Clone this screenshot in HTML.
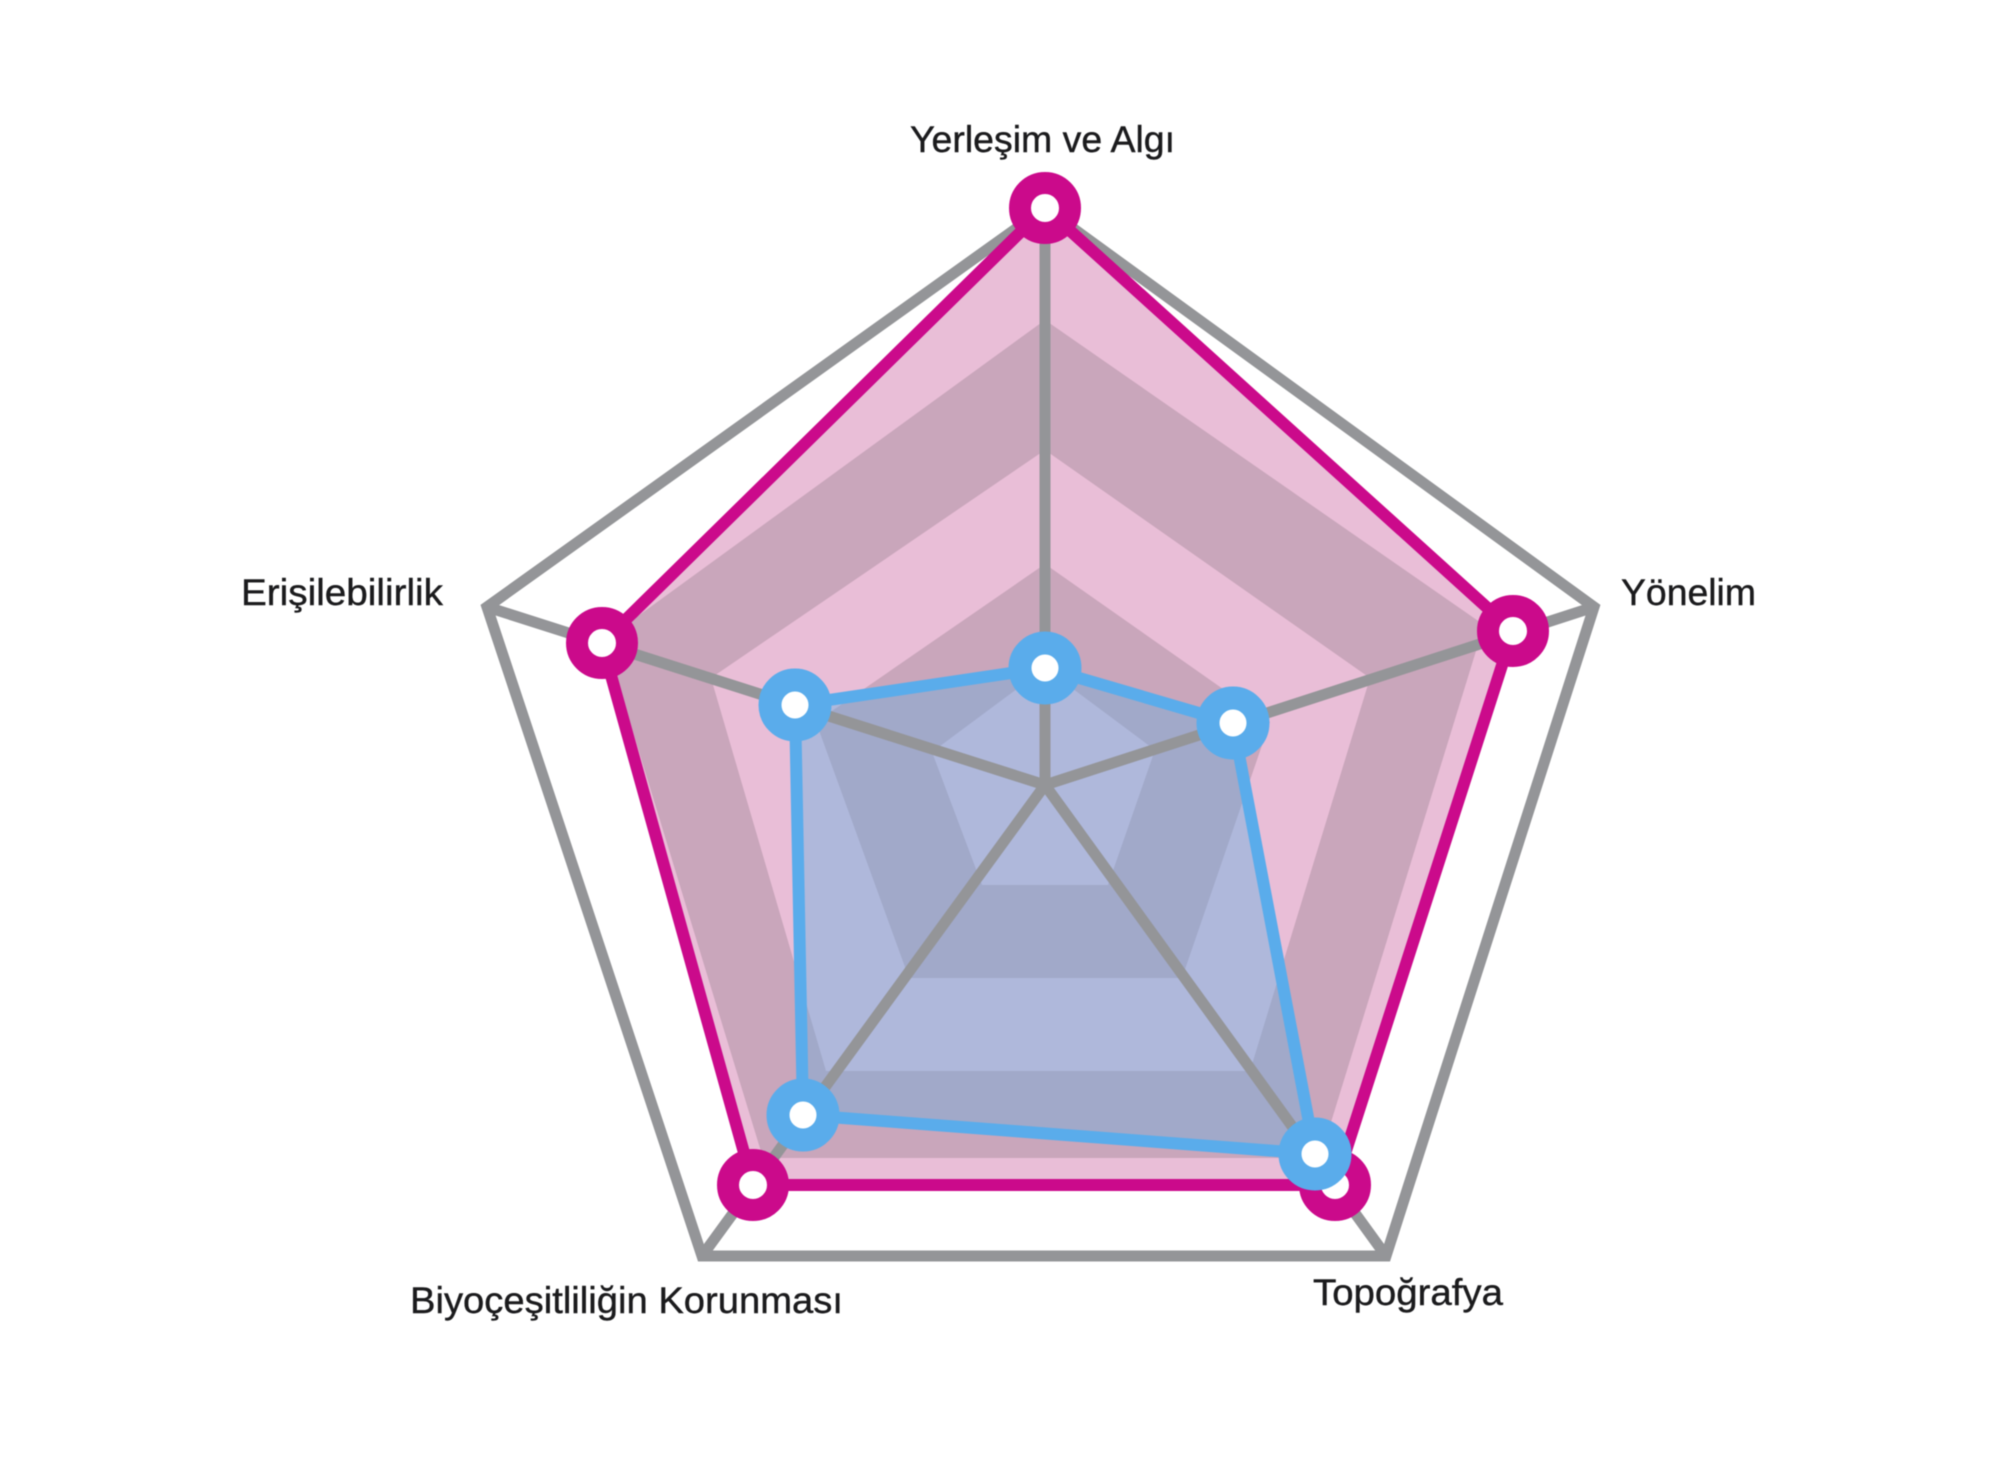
<!DOCTYPE html>
<html lang="tr">
<head>
<meta charset="utf-8">
<title>Radar</title>
<style>
html,body{margin:0;padding:0;background:#fff;width:2000px;height:1466px;overflow:hidden}
svg{display:block;filter:blur(0.6px)}
text{font-family:"Liberation Sans",sans-serif;font-size:37px;fill:#1b1b1d;stroke:#1b1b1d;stroke-width:0.4px}
</style>
</head>
<body>
<svg width="2000" height="1466" viewBox="0 0 2000 1466" xmlns="http://www.w3.org/2000/svg">
<defs>
<clipPath id="blueclip"><polygon points="1045,668 1233,723 1315,1154 803,1115 795,705"/></clipPath>
</defs>
<rect width="2000" height="1466" fill="#fff"/>
<!-- pink bands -->
<polygon points="1045,208 1513,631 1335,1185 753,1185 602,643" fill="#e9bed7"/>
<polygon points="1045,320 1484,625 1320,1158 763,1158 605,640" fill="#c9a6bb"/>
<polygon points="1045,450 1370,678 1250,1071 826,1071 711,678" fill="#e9bed7"/>
<polygon points="1045,564 1270,722 1182,978 909,978 816,722" fill="#c9a6bb"/>
<polygon points="1045,668 1155,750 1108,885 982,885 932,752" fill="#e9bed7"/>
<!-- blue-tinted bands -->
<g clip-path="url(#blueclip)">
<rect width="2000" height="1466" fill="#afb8db"/>
<polygon points="1045,320 1484,625 1320,1158 763,1158 605,640" fill="#a1a9c9"/>
<polygon points="1045,450 1370,678 1250,1071 826,1071 711,678" fill="#afb8db"/>
<polygon points="1045,564 1270,722 1182,978 909,978 816,722" fill="#a1a9c9"/>
<polygon points="1045,668 1155,750 1108,885 982,885 932,752" fill="#afb8db"/>
</g>
<!-- grid -->
<g fill="none" stroke="#949598" stroke-width="11">
<polygon points="1045,208 1594,607 1386,1256 702,1256 487,607" stroke-miterlimit="10"/>
<line x1="1045" y1="785" x2="1045" y2="208"/>
<line x1="1045" y1="785" x2="1594" y2="607"/>
<line x1="1045" y1="785" x2="1386" y2="1256"/>
<line x1="1045" y1="785" x2="702" y2="1256"/>
<line x1="1045" y1="785" x2="487" y2="607"/>
</g>
<!-- pink series -->
<polygon points="1045,208 1513,631 1335,1185 753,1185 602,643" fill="none" stroke="#cb0a8b" stroke-width="12"/>
<!-- pink nodes -->
<g fill="#fff" stroke="#cb0a8b" stroke-width="22">
<circle cx="1045" cy="208" r="25"/>
<circle cx="1513" cy="631" r="25"/>
<circle cx="1335" cy="1185" r="25"/>
<circle cx="753" cy="1185" r="25"/>
<circle cx="602" cy="643" r="25"/>
</g>
<!-- blue series -->
<polygon points="1045,668 1233,723 1315,1154 803,1115 795,705" fill="none" stroke="#5aaceb" stroke-width="12"/>
<g fill="#fff" stroke="#5aaceb" stroke-width="23">
<circle cx="1045" cy="668" r="25"/>
<circle cx="1233" cy="723" r="25"/>
<circle cx="1315" cy="1154" r="25"/>
<circle cx="803" cy="1115" r="25"/>
<circle cx="795" cy="705" r="25"/>
</g>
<!-- labels -->
<text x="910" y="152" textLength="265" lengthAdjust="spacingAndGlyphs">Yerleşim ve Algı</text>
<text x="241" y="605" textLength="202" lengthAdjust="spacingAndGlyphs">Erişilebilirlik</text>
<text x="1621" y="605" textLength="135" lengthAdjust="spacingAndGlyphs">Yönelim</text>
<text x="1313" y="1305" textLength="190" lengthAdjust="spacingAndGlyphs">Topoğrafya</text>
<text x="410" y="1313" textLength="433" lengthAdjust="spacingAndGlyphs">Biyoçeşitliliğin Korunması</text>
</svg>
</body>
</html>
